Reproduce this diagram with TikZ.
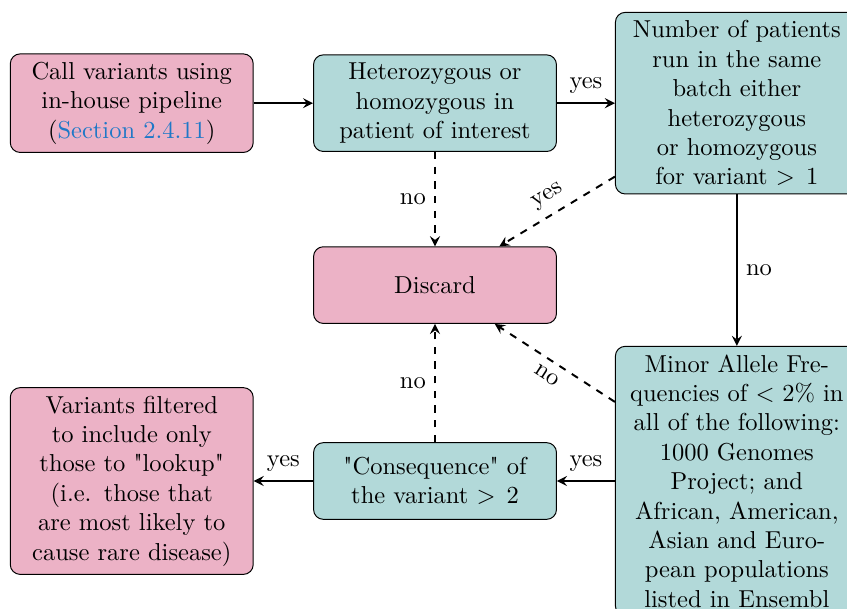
\documentclass[tikz,border=0pt]{standalone}
\usepackage{tikz}
\usetikzlibrary{positioning}
\definecolor{linkblue}{rgb}{0.12,0.47,0.78}

\begin{document}
\begin{tikzpicture}[
    box/.style={draw, rounded corners, align=center, text width=3.25cm, minimum height=1.1cm},
    keep/.style={box, fill=teal!30},
    stop/.style={box, fill=purple!30},
    arr/.style={->, >=stealth, thick}
  ]
    \clip (0,0) rectangle (12.15,-8.73);
    \node[stop] (call) at (1.89,-1.48) {Call variants using in-house pipeline (\textcolor{linkblue}{Section 2.4.11})};
    \node[keep] (zyg) at (6.24,-1.48) {Heterozygous or homozygous in patient of interest};
    \node[keep] (batch) at (10.57,-1.48) {Number of patients run in the same batch either heterozygous or homozygous for variant $>1$};
    \node[stop] (discard) at (6.24,-4.09) {Discard};
    \node[keep] (maf) at (10.57,-6.9) {Minor Allele Frequencies of $<2\%$ in all of the following: 1000 Genomes Project; and African, American, Asian and European populations listed in Ensembl};
    \node[keep] (csq) at (6.24,-6.9) {\textquotedbl Consequence\textquotedbl{} of the variant $>2$};
    \node[stop] (lookup) at (1.89,-6.9) {Variants filtered to include only those to \textquotedbl lookup\textquotedbl{} (i.e. those that are most likely to cause rare disease)};

    \draw[arr] (call) -- (zyg);
    \draw[arr] (zyg) -- node[above] {yes} (batch);
    \draw[arr, dashed] (zyg) -- node[left] {no} (discard);
    \draw[arr, dashed] (batch) -- node[above, sloped] {yes} (discard);
    \draw[arr] (batch) -- node[right] {no} (maf);
    \draw[arr, dashed] (maf) -- node[below, sloped] {no} (discard);
    \draw[arr] (maf) -- node[above] {yes} (csq);
    \draw[arr, dashed] (csq) -- node[left] {no} (discard);
    \draw[arr] (csq) -- node[above] {yes} (lookup);
  \end{tikzpicture}
\end{document}
